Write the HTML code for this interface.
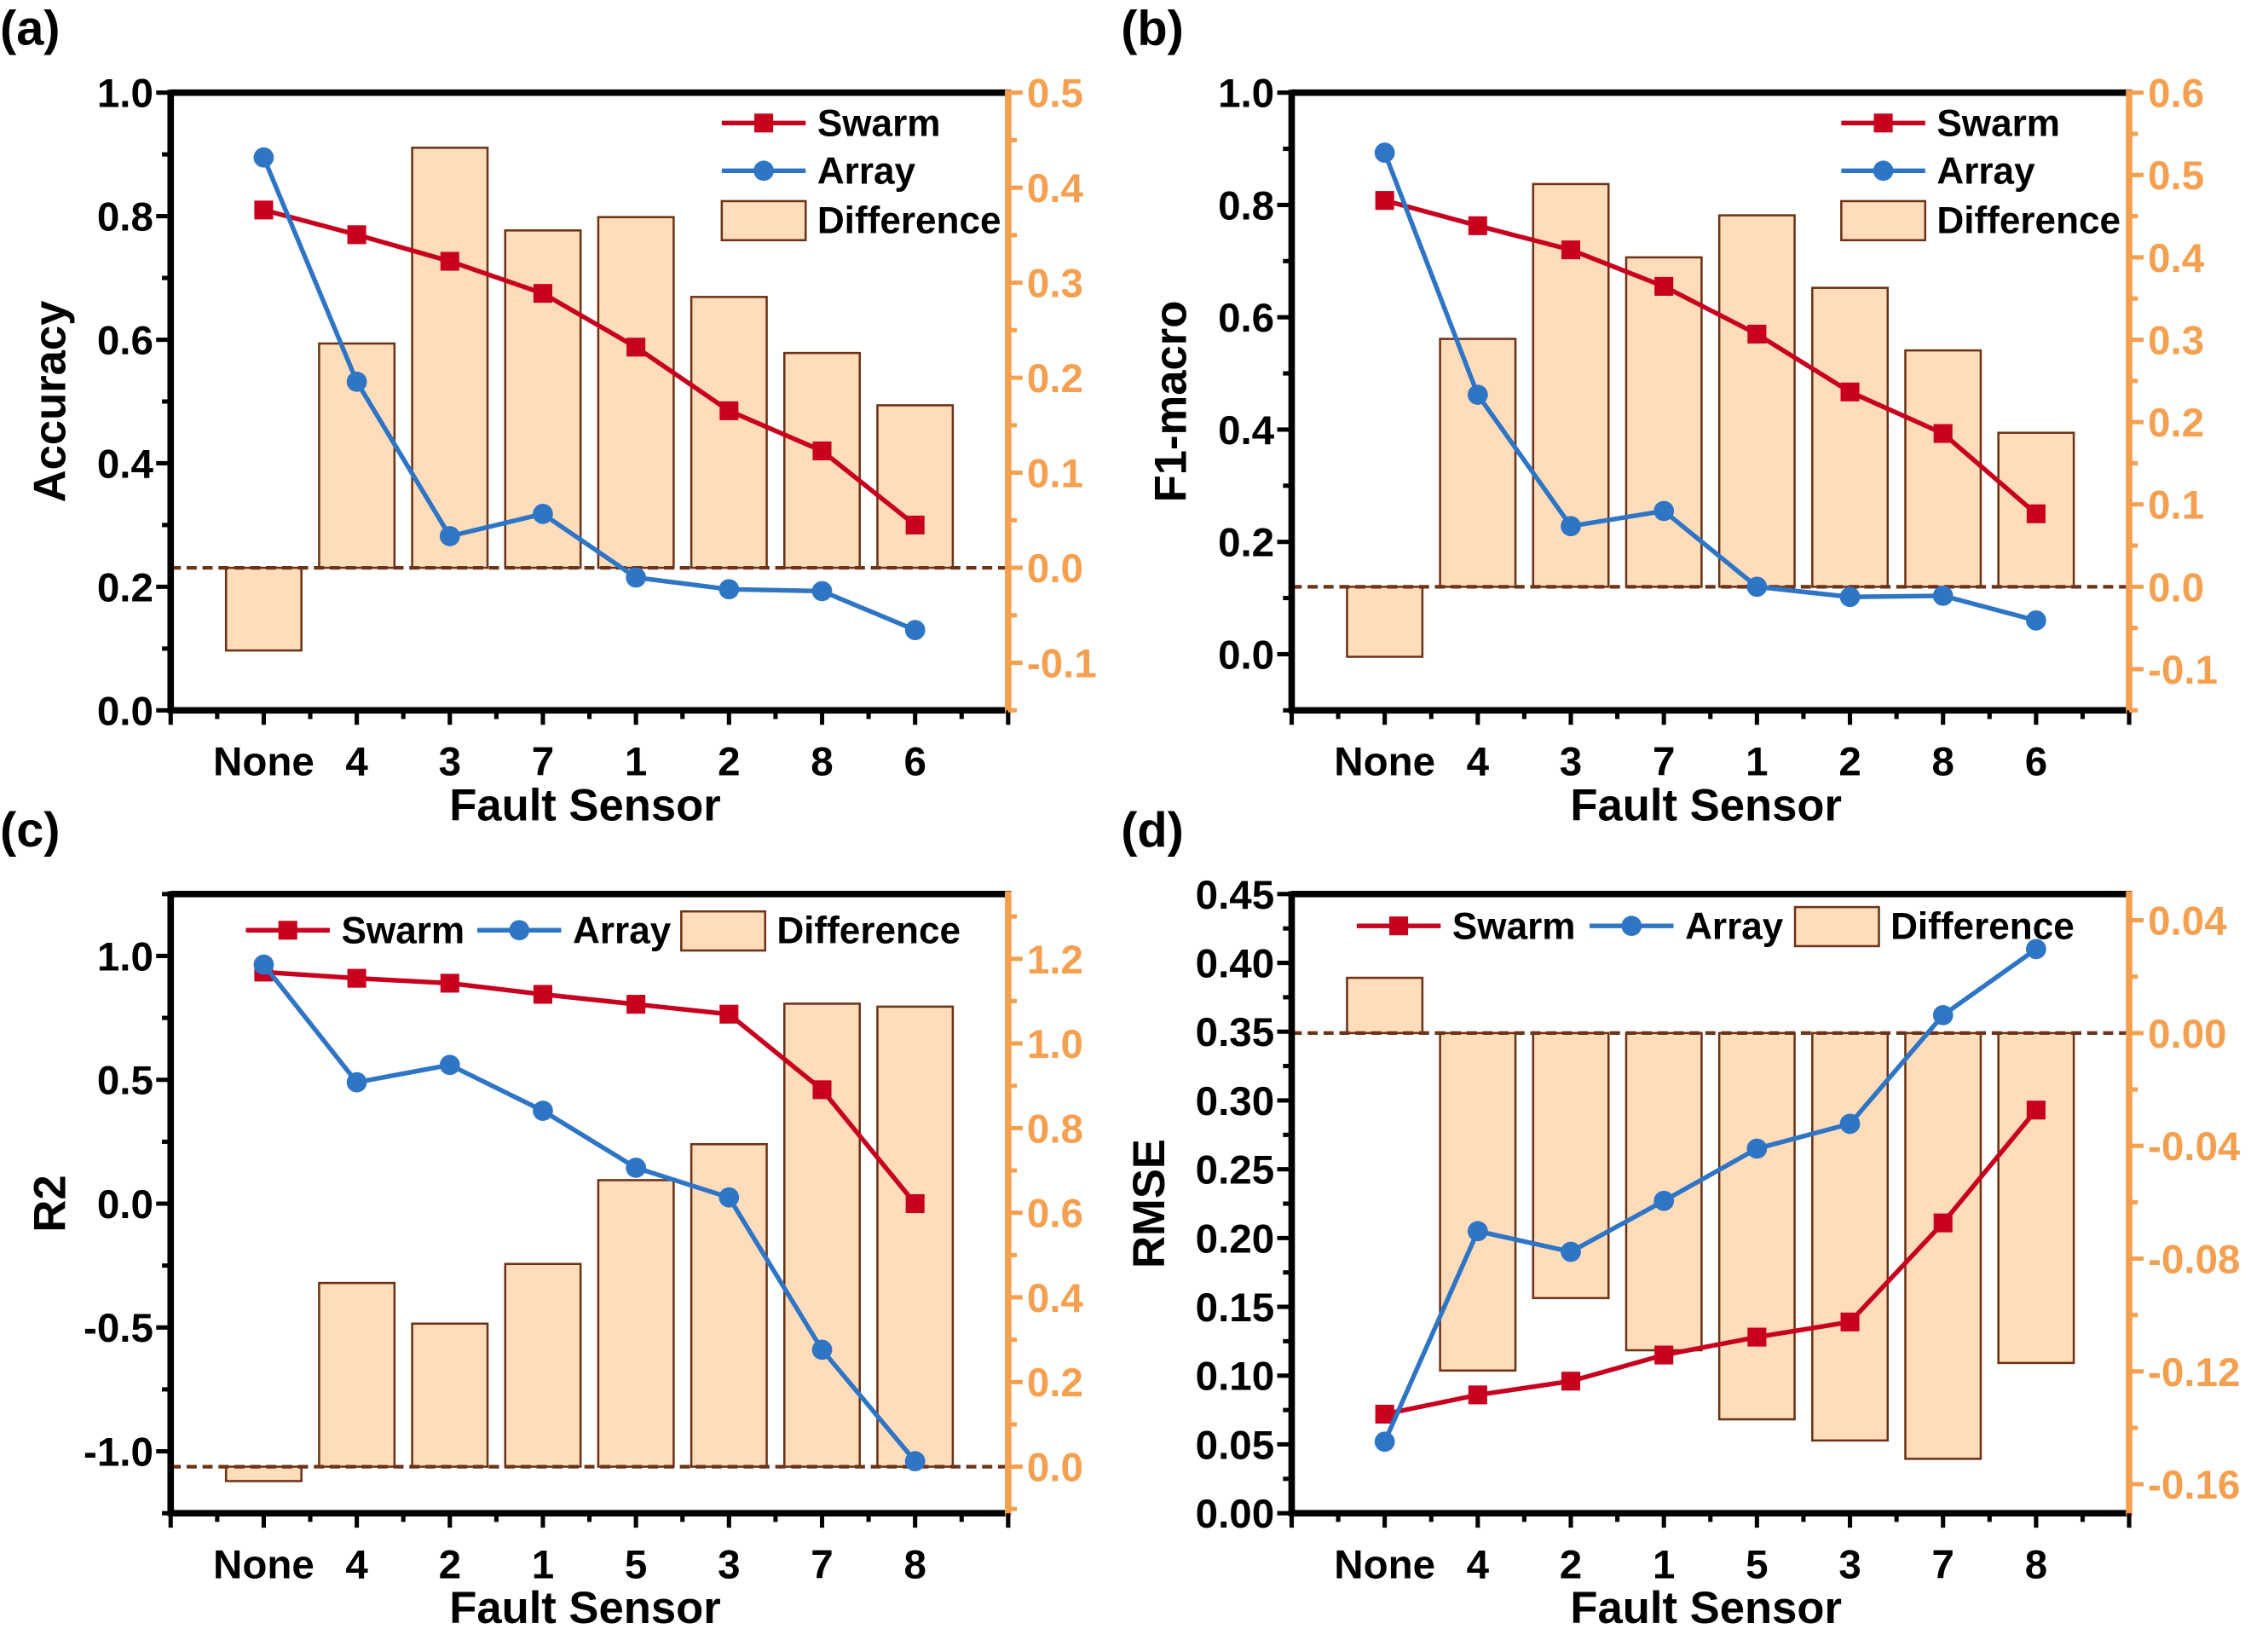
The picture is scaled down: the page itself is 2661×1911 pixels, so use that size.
<!DOCTYPE html>
<html><head><meta charset="utf-8"><style>
html,body{margin:0;padding:0;background:#fff}
svg{display:block}
text{font-family:"Liberation Sans",Arial,sans-serif;font-weight:bold}
</style></head><body>
<svg id="fig" width="2661" height="1911" viewBox="0 0 1568 1126" xmlns="http://www.w3.org/2000/svg"></svg>
<script>
// ---- Panel (a) ----
const catsA = ["None","4","3","7","1","2","8","6"];
const swarmA = [0.81,0.77,0.727,0.675,0.588,0.485,0.42,0.30];
const arrayA = [0.895,0.532,0.282,0.318,0.215,0.196,0.193,0.13];
const diffA = [-0.087,0.236,0.442,0.355,0.369,0.285,0.226,0.171];
const leftTicksA = ["0.0","0.2","0.4","0.6","0.8","1.0"];
const rightTicksA = ["-0.1","0.0","0.1","0.2","0.3","0.4","0.5"];
// ---- Panel (b) ----
const catsB = ["None","4","3","7","1","2","8","6"];
const swarmB = [0.808,0.763,0.72,0.655,0.57,0.467,0.393,0.25];
const arrayB = [0.893,0.462,0.228,0.255,0.12,0.102,0.104,0.06];
const diffB = [-0.085,0.301,0.489,0.40,0.451,0.363,0.287,0.187];
const leftTicksB = ["0.0","0.2","0.4","0.6","0.8","1.0"];
const rightTicksB = ["-0.1","0.0","0.1","0.2","0.3","0.4","0.5","0.6"];
// ---- Panel (c) ----
const catsC = ["None","4","2","1","5","3","7","8"];
const swarmC = [0.935,0.91,0.89,0.845,0.805,0.765,0.46,0.0];
const arrayC = [0.965,0.49,0.56,0.375,0.145,0.025,-0.59,-1.04];
const diffC = [-0.034,0.434,0.338,0.479,0.677,0.762,1.094,1.087];
const leftTicksC = ["-1.0","-0.5","0.0","0.5","1.0"];
const rightTicksC = ["0.0","0.2","0.4","0.6","0.8","1.0","1.2"];
// ---- Panel (d) ----
const catsD = ["None","4","2","1","5","3","7","8"];
const swarmD = [0.072,0.086,0.096,0.115,0.128,0.139,0.211,0.293];
const arrayD = [0.052,0.205,0.19,0.227,0.265,0.283,0.362,0.41];
const diffD = [0.0196,-0.1197,-0.094,-0.1125,-0.137,-0.1445,-0.151,-0.117];
const leftTicksD = ["0.00","0.05","0.10","0.15","0.20","0.25","0.30","0.35","0.40","0.45"];
const rightTicksD = ["-0.16","-0.12","-0.08","-0.04","0.00","0.04"];

const NS="http://www.w3.org/2000/svg";
const svg=document.getElementById('fig');
const RED="#C8001E",BLUE="#2E75C6",OR="#F5A050",BF="#FFDDBB",BS="#6B3318";
function mk(tag,attrs,parent){const e=document.createElementNS(NS,tag);for(const k in attrs)e.setAttribute(k,attrs[k]);(parent||svg).appendChild(e);return e;}
function txt(s,attrs,parent){const e=mk('text',attrs,parent);e.textContent=s;return e;}

function panel(o){
  const g=mk('g',{});
  
  
  const L=o.L,R=o.R,T=o.T,B=o.B;
  const x=i=>L+(i+1)*(R-L)/9;
  const yl=v=>B-(v-o.lmin)/(o.lmax-o.lmin)*(B-T);
  const yr=v=>B-(v-o.rmin)/(o.rmax-o.rmin)*(B-T);
  // bars
  const bw=(R-L)/9*0.81;
  o.diff.forEach((d,i)=>{
    const y0=yr(0),y1=yr(d);
    const r=mk('rect',{x:x(i)-bw/2,y:Math.min(y0,y1),width:bw,height:Math.abs(y1-y0),fill:BF,stroke:BS,'stroke-width':1.5},g);
    
    
  });
  // zero dashed line
  const zl=mk('line',{x1:L,x2:R,y1:yr(0),y2:yr(0),stroke:BS,'stroke-width':2.5,'stroke-dasharray':'7,4'},g);
  
  
  // lines
  function series(vals,col,name,sq){
    const pts=vals.map((v,i)=>x(i)+','+yl(v)).join(' ');
    const pl=mk('polyline',{points:pts,fill:'none',stroke:col,'stroke-width':3.2},g);
    
    
    vals.forEach((v,i)=>{
      let m;
      if(sq) m=mk('rect',{x:x(i)-6.5,y:yl(v)-6.5,width:13,height:13,fill:col},g);
      else m=mk('circle',{cx:x(i),cy:yl(v),r:7,fill:col},g);
      
      
    });
  }
  series(o.swarm,RED,'swarm',true);
  series(o.array,BLUE,'array',false);
  // axes frame
  mk('line',{x1:L,x2:R+2,y1:T,y2:T,stroke:'#000','stroke-width':4.5},g);
  mk('line',{x1:L,x2:R,y1:B,y2:B,stroke:'#000','stroke-width':4.5},g);
  mk('line',{x1:L,x2:L,y1:T-2,y2:B+2,stroke:'#000','stroke-width':4.5},g);
  mk('line',{x1:R,x2:R,y1:T-2,y2:B+2,stroke:OR,'stroke-width':4.5},g);
  // x ticks
  for(let k=0;k<=18;k++){
    const xx=L+k*(R-L)/18, maj=k%2==0;
    mk('line',{x1:xx,x2:xx,y1:B,y2:B+(maj?10:6),stroke:'#000','stroke-width':3},g);
  }
  o.cats.forEach((c,i)=>{
    const t=txt(c,{x:x(i),y:B+45,'font-size':28,'text-anchor':'middle'},g);
    
    
  });
  const xt=txt('Fault Sensor',{x:(L+R)/2-3,y:B+76,'font-size':31,'text-anchor':'middle'},g);
  
  
  // left ticks
  o.lt.forEach((s,i)=>{
    const v=parseFloat(s), yy=yl(v);
    mk('line',{x1:L-10,x2:L,y1:yy,y2:yy,stroke:'#000','stroke-width':3},g);
    const t=txt(s,{x:L-12,y:yy+10,'font-size':28,'text-anchor':'end'},g);
    
    
    if(i<o.lt.length-1){const yn=yl((v+parseFloat(o.lt[i+1]))/2);mk('line',{x1:L-6,x2:L,y1:yn,y2:yn,stroke:'#000','stroke-width':3},g);}
  });
  if(o.lminor){o.lminor.forEach(v=>{const yy=yl(v);mk('line',{x1:L-6,x2:L,y1:yy,y2:yy,stroke:'#000','stroke-width':3},g);});}
  o.rt.forEach((s,i)=>{
    const v=parseFloat(s), yy=yr(v);
    mk('line',{x1:R,x2:R+10,y1:yy,y2:yy,stroke:OR,'stroke-width':3},g);
    const t=txt(s,{x:R+13,y:yy+10,'font-size':28,fill:OR,'text-anchor':'start'},g);
    
    
    if(i<o.rt.length-1){const yn=yr((v+parseFloat(o.rt[i+1]))/2);mk('line',{x1:R,x2:R+6,y1:yn,y2:yn,stroke:OR,'stroke-width':3},g);}
  });
  if(o.rminor){o.rminor.forEach(v=>{const yy=yr(v);mk('line',{x1:R,x2:R+6,y1:yy,y2:yy,stroke:OR,'stroke-width':3},g);});}
  const yt=txt(o.ytitle,{x:0,y:0,'font-size':31,'text-anchor':'middle',transform:`translate(${o.ytx},${(T+B)/2}) rotate(-90)`},g);
  
  
  const pl=txt('('+o.id+')',{x:o.px,y:T-33,'font-size':34},g);
  
  
  // legend
  function legItem(kind,lx,ly,label){
    const lg=mk('g',{},g);
    
    
    if(kind==='bar'){mk('rect',{x:lx,y:ly-13,width:58,height:27,fill:BF,stroke:BS,'stroke-width':1.5},lg);}
    else{
      const col=kind==='sq'?RED:BLUE;
      mk('line',{x1:lx,x2:lx+58,y1:ly,y2:ly,stroke:col,'stroke-width':3.2},lg);
      if(kind==='sq')mk('rect',{x:lx+29-6.5,y:ly-6.5,width:13,height:13,fill:col},lg);
      else mk('circle',{cx:lx+29,cy:ly,r:7,fill:col},lg);
    }
    txt(label,{x:lx+66,y:ly+9,'font-size':26},lg);
  }
  o.legend.forEach(e=>legItem(e[0],e[1],e[2],e[3]));
}

panel({id:'a',L:118,R:697,T:64,B:491,lmin:0,lmax:1,rmin:-0.15,rmax:0.5,cats:catsA,swarm:swarmA,array:arrayA,diff:diffA,lt:leftTicksA,rt:rightTicksA,
  lminor:[],rminor:[-0.15],ytitle:'Accuracy',ytx:45,px:0,
  legend:[['sq',499,85,'Swarm'],['ci',499,118,'Array'],['bar',499,152,'Difference']]});
panel({id:'b',L:893,R:1472,T:64,B:491,lmin:-0.1,lmax:1.0,rmin:-0.15,rmax:0.6,cats:catsB,swarm:swarmB,array:arrayB,diff:diffB,lt:leftTicksB,rt:rightTicksB,
  lminor:[-0.1],rminor:[-0.15],ytitle:'F1-macro',ytx:820,px:775,
  legend:[['sq',1273,85,'Swarm'],['ci',1273,118,'Array'],['bar',1273,152,'Difference']]});
panel({id:'c',L:118,R:697,T:618,B:1046,lmin:-1.25,lmax:1.25,rmin:-0.11,rmax:1.353,cats:catsC,swarm:swarmC,array:arrayC,diff:diffC,lt:leftTicksC,rt:rightTicksC,
  lminor:[-1.25,1.25],rminor:[-0.1,1.3],ytitle:'R2',ytx:45,px:0,
  legend:[['sq',170,643,'Swarm'],['ci',330,643,'Array'],['bar',471,643,'Difference']]});
panel({id:'d',L:893,R:1472,T:618,B:1046,lmin:0,lmax:0.45,rmin:-0.1703,rmax:0.0493,cats:catsD,swarm:swarmD,array:arrayD,diff:diffD,lt:leftTicksD,rt:rightTicksD,
  lminor:[],rminor:[],ytitle:'RMSE',ytx:805,px:775,
  legend:[['sq',938,640,'Swarm'],['ci',1099,640,'Array'],['bar',1241,640,'Difference']]});
</script>
</body></html>
